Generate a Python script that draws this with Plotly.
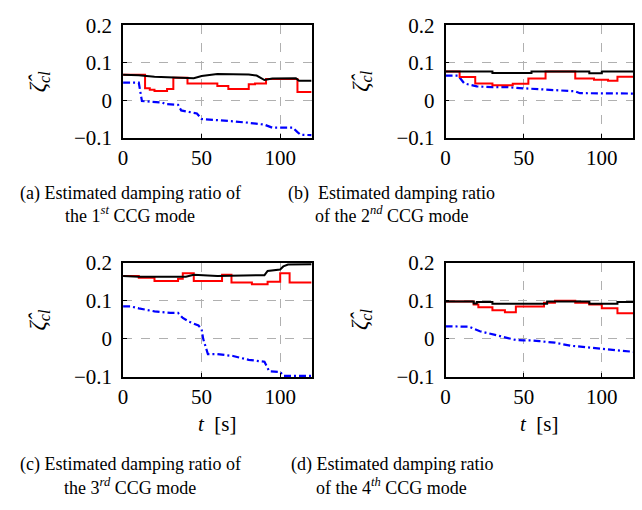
import plotly.graph_objects as go

# ---------------- data ----------------
# Panel (a) 1st CCG mode
a_black_t = [0, 10, 20, 30, 45, 50, 60, 80, 85, 90, 95, 110, 112, 120]
a_black_v = [0.068, 0.067, 0.063, 0.061, 0.059, 0.065, 0.070, 0.069, 0.066, 0.054, 0.058, 0.059, 0.052, 0.052]
a_red_t = [0, 14, 17, 20, 28, 32, 41, 60, 67, 80, 84, 91, 111, 120]
a_red_v = [0.068, 0.032, 0.028, 0.025, 0.030, 0.060, 0.045, 0.038, 0.030, 0.043, 0.045, 0.057, 0.022, 0.022]
a_blue_t = [0, 10, 12, 25, 27, 35, 37, 47, 50, 60, 70, 80, 90, 95, 108, 111, 113, 120]
a_blue_v = [0.047, 0.047, -0.002, -0.006, -0.010, -0.012, -0.027, -0.035, -0.050, -0.052, -0.056, -0.060, -0.065, -0.073, -0.073, -0.085, -0.092, -0.093]

# Panel (b) 2nd CCG mode
b_black_t = [0, 30, 55, 92, 100, 120]
b_black_v = [0.077, 0.073, 0.077, 0.072, 0.077, 0.077]
b_red_t = [0, 9, 19, 30, 43, 53, 64, 83, 95, 104, 110, 120]
b_red_v = [0.077, 0.062, 0.045, 0.040, 0.044, 0.058, 0.077, 0.058, 0.055, 0.052, 0.063, 0.063]
b_blue_t = [0, 8, 12, 20, 30, 40, 50, 60, 70, 80, 83, 86, 100, 120]
b_blue_v = [0.066, 0.066, 0.045, 0.037, 0.035, 0.035, 0.032, 0.030, 0.027, 0.024, 0.024, 0.019, 0.018, 0.018]

# Panel (c) 3rd CCG mode
c_black_t = [0, 10, 40, 45, 60, 80, 90, 92, 100, 102, 105, 120]
c_black_v = [0.165, 0.163, 0.163, 0.168, 0.165, 0.166, 0.167, 0.178, 0.182, 0.190, 0.195, 0.196]
c_red_t = [0, 10, 20, 35, 38, 45, 63, 69, 82, 92, 100, 106, 120]
c_red_v = [0.165, 0.160, 0.152, 0.158, 0.172, 0.152, 0.168, 0.148, 0.143, 0.150, 0.172, 0.148, 0.148]
c_blue_t = [0, 5, 10, 20, 30, 35, 38, 42, 48, 50, 51, 54, 60, 70, 80, 90, 93, 100, 102, 120]
c_blue_v = [0.085, 0.085, 0.080, 0.072, 0.068, 0.068, 0.055, 0.045, 0.035, 0.025, 0.000, -0.040, -0.040, -0.045, -0.055, -0.060, -0.085, -0.087, -0.097, -0.097]

# Panel (d) 4th CCG mode
d_black_t = [0, 18, 20, 30, 65, 92, 110, 120]
d_black_v = [0.098, 0.093, 0.097, 0.092, 0.098, 0.092, 0.097, 0.097]
d_red_t = [0, 18, 21, 30, 38, 45, 63, 70, 83, 92, 100, 110, 120]
d_red_v = [0.098, 0.090, 0.083, 0.075, 0.070, 0.085, 0.095, 0.100, 0.095, 0.090, 0.080, 0.067, 0.067]
d_blue_t = [0, 13, 15, 22, 30, 35, 40, 45, 50, 55, 60, 70, 80, 90, 100, 110, 120]
d_blue_v = [0.033, 0.033, 0.032, 0.020, 0.012, 0.008, 0.002, -0.003, -0.004, -0.004, -0.006, -0.010, -0.018, -0.022, -0.025, -0.030, -0.034]

x_tickvals = [0, 50, 100]
x_ticktext = ["0", "50", "100"]
y_tickvals = [-0.1, 0, 0.1, 0.2]
y_ticktext = ["\u22120.1", "0", "0.1", "0.2"]

captions = [
    ("(a) Estimated damping ratio of", "the 1<sup><i>st</i></sup> CCG mode"),
    ("(b)  Estimated damping ratio", "of the 2<sup><i>nd</i></sup> CCG mode"),
    ("(c) Estimated damping ratio of", "the 3<sup><i>rd</i></sup> CCG mode"),
    ("(d) Estimated damping ratio", "of the 4<sup><i>th</i></sup> CCG mode"),
]

panels = [
    (a_black_t, a_black_v, a_red_t, a_red_v, a_blue_t, a_blue_v),
    (b_black_t, b_black_v, b_red_t, b_red_v, b_blue_t, b_blue_v),
    (c_black_t, c_black_v, c_red_t, c_red_v, c_blue_t, c_blue_v),
    (d_black_t, d_black_v, d_red_t, d_red_v, d_blue_t, d_blue_v),
]

# ---------------- layout geometry ----------------
W, H = 642, 510
xdoms = [(119 / W, 309 / W), (444 / W, 633 / W)]
ydoms = [(1 - 132 / H, 1 - 14 / H), (1 - 383 / H, 1 - 263 / H)]

serif = "Liberation Serif, Times New Roman, serif"
fig = go.Figure()
layout = dict(
    width=W, height=H, margin=dict(l=0, r=0, t=0, b=0),
    paper_bgcolor="white", plot_bgcolor="white", showlegend=False,
    font=dict(family=serif, color="black", size=18),
)
annotations = []

for i, (bt, bv, rt, rv, lt, lv) in enumerate(panels):
    row, col = divmod(i, 2)
    xa = "x" if i == 0 else f"x{i+1}"
    ya = "y" if i == 0 else f"y{i+1}"
    fig.add_trace(go.Scatter(x=lt, y=lv, mode="lines", xaxis=xa, yaxis=ya,
                             line=dict(color="#0000ff", width=2.2, dash="7px,3px,2px,3px")))
    fig.add_trace(go.Scatter(x=rt, y=rv, mode="lines", xaxis=xa, yaxis=ya, line_shape="hv",
                             line=dict(color="#ff0000", width=2)))
    fig.add_trace(go.Scatter(x=bt, y=bv, mode="lines", xaxis=xa, yaxis=ya,
                             line_shape="hv" if i in (1, 3) else "linear",
                             line=dict(color="black", width=2)))
    axcommon = dict(showline=True, linecolor="black", linewidth=1.5, mirror=True,
                    showgrid=True, gridcolor="#b0b0b0", griddash="dash", gridwidth=1,
                    zeroline=False, ticks="inside", ticklen=4, tickcolor="black",
                    tickfont=dict(family=serif, size=21, color="black"))
    xkey = "xaxis" if i == 0 else f"xaxis{i+1}"
    ykey = "yaxis" if i == 0 else f"yaxis{i+1}"
    layout[xkey] = dict(domain=list(xdoms[col]), anchor=ya, range=[0, 120],
                        tickvals=x_tickvals, ticktext=x_ticktext, **axcommon)
    layout[ykey] = dict(domain=list(ydoms[row]), anchor=xa, range=[-0.1, 0.2],
                        tickvals=y_tickvals, ticktext=y_ticktext,
                        ticklabelstandoff=5, **axcommon)

    x0, x1 = xdoms[col]
    y0, y1 = ydoms[row]
    # y-axis label
    annotations.append(dict(text="<i>\u03b6\u0302</i><sub><i>cl</i></sub>", textangle=-90,
                            x=(x0 * W - 85) / W, y=(y0 + y1) / 2, xref="paper", yref="paper",
                            xanchor="center", yanchor="middle",
                            showarrow=False, font=dict(family=serif, size=23)))
    if row == 1:
        annotations.append(dict(text="<i>t</i>  [s]", x=(x0 + x1) / 2, y=1 - 432 / H,
                                xref="paper", yref="paper", showarrow=False,
                                xanchor="center", yanchor="middle",
                                font=dict(family=serif, size=21)))
    # caption
    cx = [126, 390][col] / W
    cy1 = [190, 475][row]
    cy2 = [213, 498][row]
    l1, l2 = captions[i]
    annotations.append(dict(text=l1, x=cx, y=1 - cy1 / H, xref="paper", yref="paper",
                            xanchor="center", yanchor="middle",
                            showarrow=False, font=dict(family=serif, size=18)))
    annotations.append(dict(text=l2, x=cx, y=1 - cy2 / H, xref="paper", yref="paper",
                            xanchor="center", yanchor="middle",
                            showarrow=False, font=dict(family=serif, size=18)))

layout["annotations"] = annotations
fig.update_layout(**layout)
fig.write_html("out.html")
